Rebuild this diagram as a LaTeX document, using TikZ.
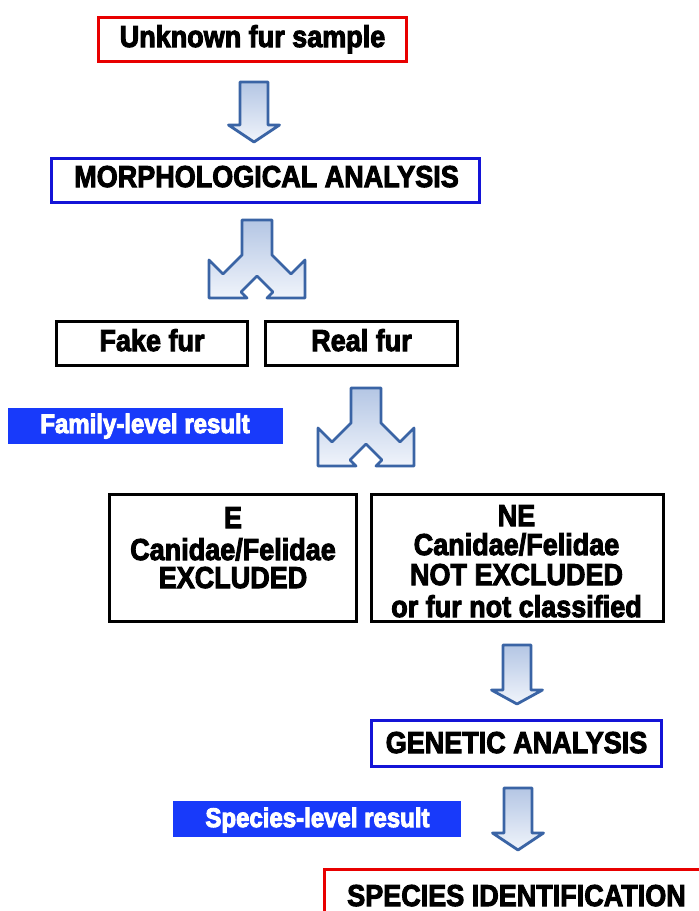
\documentclass[tikz,border=0pt]{standalone}
\usepackage{fontspec}
\usepackage{graphicx}
\setmainfont{Liberation Sans}
\newfontfamily\hvb{Liberation Sans Bold}
\definecolor{bred}{RGB}{232,0,0}
\definecolor{bblue}{RGB}{20,20,215}
\definecolor{lblue}{RGB}{24,58,250}
\definecolor{aline}{RGB}{58,100,165}
\definecolor{atop}{RGB}{180,198,228}
\definecolor{abot}{RGB}{240,244,251}
\newcommand\VS[1]{\scalebox{1}[1.12]{\special{pdf:literal direct 2 Tr 0.9 w}#1\special{pdf:literal direct 0 Tr}}}
\newcommand\DArrow[4]{%
  \path[blockarrow] ({#1-14},#2) -- ({#1+14},#2) -- ({#1+14},#3) -- ({#1+25.5},#3)
    -- (#1,#4) -- ({#1-25.5},#3) -- ({#1-14},#3) -- cycle;}
\newcommand\SArrow[2]{%
  \path[blockarrow, shift={(#1,#2)}] (-15,0) -- (15,0) -- (15,35) -- (34,54) -- (48,40)
    -- (48,78) -- (10,78) -- (16,72) -- (0,56) -- (-16,72) -- (-10,78) -- (-48,78)
    -- (-48,40) -- (-34,54) -- (-15,35) -- cycle;}
\begin{document}
\begin{tikzpicture}[x=1pt,y=-1pt,
  box/.style={draw, line width=3pt, inner sep=0pt, fill=white},
  redbox/.style={box, draw=bred},
  bluebox/.style={box, draw=bblue},
  blackbox/.style={box, draw=black},
  tag/.style={fill=lblue, inner sep=0pt},
  txt/.style={inner sep=0pt, anchor=base, font=\hvb\fontsize{27}{32}\selectfont},
  tagtxt/.style={inner sep=0pt, anchor=base, text=white, font=\hvb\fontsize{24}{29}\selectfont},
  blockarrow/.style={draw=aline, line width=2.8pt, line join=round, top color=atop, bottom color=abot}]
\fill[white] (0,0) rectangle (699,911);
\useasboundingbox (0,0) rectangle (699,911);
% boxes
\node[redbox, minimum width=308pt, minimum height=44pt] (unk) at (252.5,39) {};
\node[txt] (unkT) at (252.5,47) {\VS{Unknown fur sample}};
\node[bluebox, minimum width=428pt, minimum height=44pt] (morph) at (265.5,180.5) {};
\node[txt] (morphT) at (266.5,187) {\VS{MORPHOLOGICAL ANALYSIS}};
\node[blackbox, minimum width=191pt, minimum height=44pt] (fake) at (152,343.5) {};
\node[txt] (fakeT) at (152,351) {\VS{Fake fur}};
\node[blackbox, minimum width=192pt, minimum height=44pt] (real) at (361.5,343.5) {};
\node[txt] (realT) at (361.5,351) {\VS{Real fur}};
\node[tag, minimum width=275pt, minimum height=36pt] (fam) at (145.5,426) {};
\node[tagtxt] (famT) at (145,433) {\VS{Family-level result}};
\node[blackbox, minimum width=247pt, minimum height=127pt] (E) at (233,558) {};
\node[txt] (E1) at (233,528) {\VS{E}};
\node[txt] (E2) at (233,560) {\VS{Canidae/Felidae}};
\node[txt] (E3) at (233,588) {\VS{EXCLUDED}};
\node[blackbox, minimum width=292pt, minimum height=127pt] (NE) at (517.5,558) {};
\node[txt] (NE1) at (516.5,526) {\VS{NE}};
\node[txt] (NE2) at (516.5,555) {\VS{Canidae/Felidae}};
\node[txt] (NE3) at (516.5,585) {\VS{NOT EXCLUDED}};
\node[txt] (NE4) at (516.5,617) {\VS{or fur not classified}};
\node[bluebox, minimum width=290pt, minimum height=46pt] (gen) at (516.5,743.5) {};
\node[txt] (genT) at (516.5,753) {\VS{GENETIC ANALYSIS}};
\node[tag, minimum width=288pt, minimum height=36pt] (spl) at (317,819) {};
\node[tagtxt] (splT) at (317.5,827) {\VS{Species-level result}};
\node[redbox, minimum width=384pt, minimum height=51pt] (spec) at (516.5,895) {};
\node[txt] (specT) at (516.5,906) {\VS{SPECIES IDENTIFICATION}};
% block arrows
\DArrow{254}{82}{125}{142}
\SArrow{257}{220}
\SArrow{366}{388}
\DArrow{517}{645}{690}{704}
\DArrow{518}{788}{833}{850}
\end{tikzpicture}
\end{document}
